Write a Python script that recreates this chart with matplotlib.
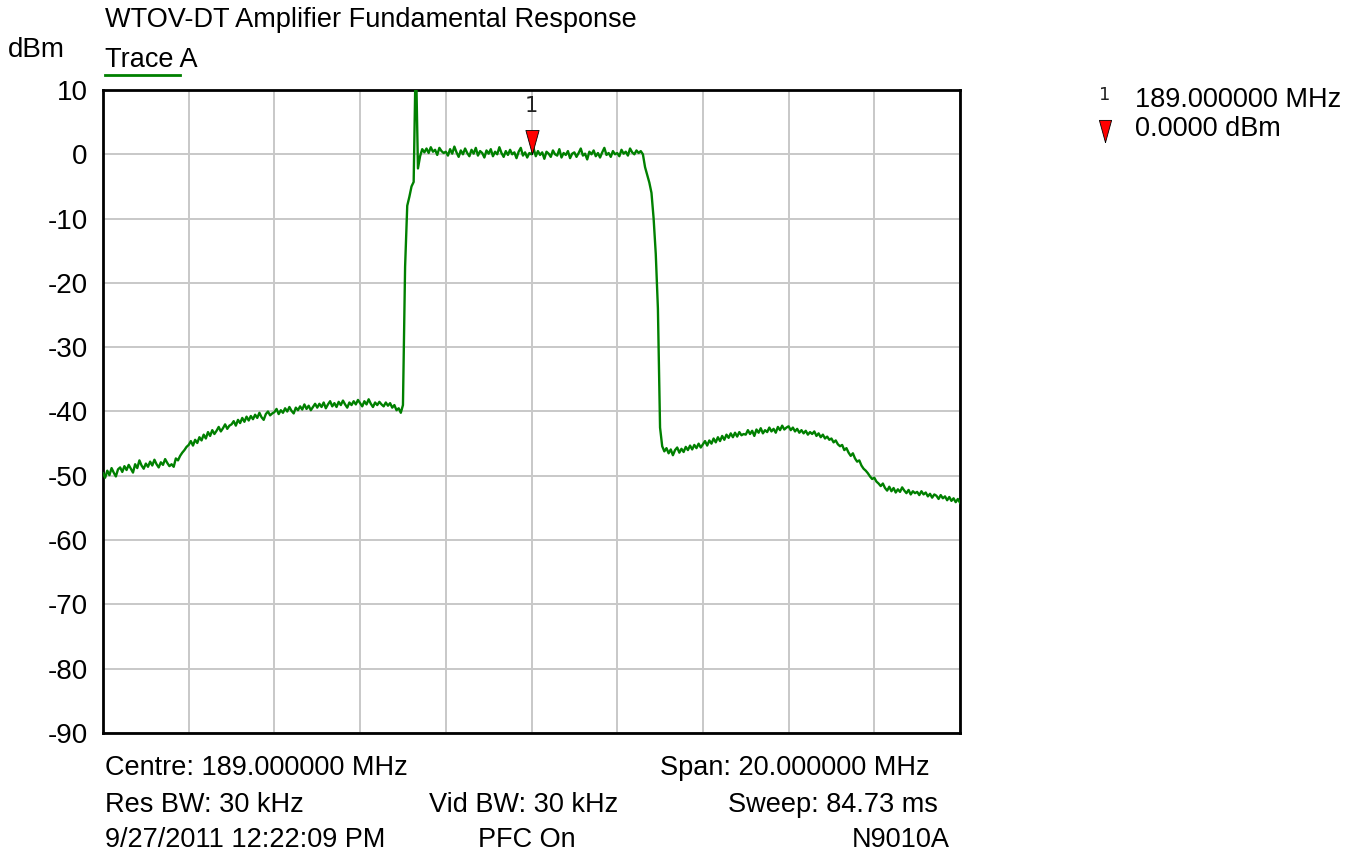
import numpy as np
import matplotlib
matplotlib.use('Agg')
import matplotlib.pyplot as plt
from matplotlib.transforms import offset_copy

plt.rcParams['font.family'] = ['Liberation Sans', 'DejaVu Sans']

# Sweep settings
centre_mhz = 189.0
span_mhz = 20.0
n_points = 401

# Trace A levels (dBm), 0.05 MHz apart, one row per MHz from 179 to 198.95, then 199.0
trace_a = [
    -49.6, -50.3, -49.2, -49.9, -48.8, -49.5, -50.1, -49.0, -48.7, -49.4, -48.5, -49.1, -48.3, -48.9, -49.5, -48.2, -48.8, -47.6, -48.4, -48.9,
    -48.1, -48.6, -47.8, -48.4, -47.5, -48.2, -48.7, -47.9, -48.3, -47.4, -48.0, -48.5, -48.2, -48.6, -47.3, -47.6, -46.9, -46.4, -46.0, -45.5,
    -45.2, -44.6, -45.3, -44.4, -44.9, -44.0, -44.5, -43.6, -44.2, -43.2, -43.8, -42.9, -43.5, -43.0, -42.4, -43.1, -42.6, -42.0, -42.7, -42.2,
    -42.0, -41.5, -42.2, -41.3, -41.8, -41.0, -41.6, -40.8, -41.4, -40.7, -41.2, -40.5, -41.0, -40.2, -40.9, -41.3, -40.4, -40.0, -40.6, -40.3,
    -40.1, -39.6, -40.4, -39.8, -40.2, -39.5, -40.0, -39.3, -39.9, -40.3, -39.4, -39.8, -39.2, -39.7, -38.9, -39.6, -39.1, -39.8, -39.3, -38.8,
    -39.4, -38.8, -39.3, -38.6, -39.5, -38.9, -38.4, -39.2, -38.7, -39.3, -38.5, -39.0, -38.3, -38.9, -39.4, -38.6, -39.0, -38.4, -38.9, -38.2,
    -38.7, -39.2, -38.4, -38.9, -38.1, -38.8, -39.3, -38.6, -39.0, -38.5, -38.9, -39.2, -38.6, -39.1, -38.7, -39.4, -39.0, -39.8, -39.5, -40.2,
    -39.0, -17.5, -8.0, -6.6, -5.0, -4.3, 16.0, -2.2, -0.3, 0.8, 0.3, 0.9, 0.2, 1.1, 0.4, 0.7, -0.1, 1.0, 0.5, 0.2,
    0.4, -0.2, 0.8, 0.1, 1.2, 0.3, -0.4, 0.6, 0.0, 0.9, 0.2, -0.3, 0.7, 0.1, 1.0, -0.2, 0.5, 0.2, -0.5, 0.6,
    0.1, 0.8, -0.3, 0.4, 0.0, 1.1, 0.2, -0.4, 0.5, -0.1, 0.7, 0.0, 0.3, -0.6, 0.4, 1.0, -0.2, 0.3, -0.5, 0.2,
    0.0, 0.9, -0.3, 0.5, -0.1, 0.3, -0.7, 0.4, 0.1, -0.4, 0.6, 0.0, -0.2, 0.8, -0.5, 0.2, -0.1, 0.5, -0.6, 0.1,
    0.3, -0.4, 0.2, 0.9, -0.2, 0.1, -0.8, 0.4, 0.0, 0.6, -0.3, 0.2, -0.5, 0.3, 1.0, -0.1, 0.2, -0.4, 0.5, 0.0,
    0.2, -0.3, 0.7, 0.1, 0.4, -0.2, 0.9, 0.3, 0.0, 0.6, 0.2, 0.5, 0.0, -2.0, -3.2, -4.4, -6.0, -10.0, -15.5, -24.0,
    -42.5, -45.4, -46.2, -45.7, -46.5, -45.9, -46.8, -46.0, -45.6, -46.4, -45.8, -46.3, -45.5, -46.0, -45.3, -45.9, -45.2, -45.7, -45.0, -45.6,
    -45.1, -44.6, -45.3, -44.5, -45.0, -44.2, -44.8, -44.0, -44.6, -43.8, -44.4, -43.6, -44.1, -43.4, -44.0, -43.3, -43.9, -43.2, -43.7, -43.5,
    -43.6, -42.9, -43.5, -43.0, -43.8, -42.8, -43.3, -42.6, -43.4, -42.9, -43.2, -42.5, -43.1, -42.7, -43.3, -42.4, -42.9, -42.2, -42.8, -42.5,
    -42.3, -42.9, -42.5, -43.1, -42.7, -43.3, -42.9, -43.4, -43.0, -43.6, -43.2, -43.5, -43.1, -43.8, -43.4, -44.0, -43.6, -44.2, -43.9, -44.4,
    -44.2, -44.8, -44.5, -45.1, -45.4, -45.2, -46.0, -45.7, -46.4, -46.9, -46.5, -47.3, -47.8, -47.6, -48.4, -48.9, -49.2, -49.6, -50.1, -50.5,
    -50.3, -50.9, -51.2, -51.6, -51.2, -51.9, -52.3, -51.7, -52.4, -51.9, -52.6, -52.1, -52.5, -51.8, -52.3, -52.7, -52.2, -52.9, -52.4, -52.7,
    -52.5, -53.0, -52.4, -52.9, -52.6, -53.2, -52.8, -53.4, -52.9, -53.1, -53.6, -53.0, -53.5, -53.2, -53.8, -53.3, -53.9, -53.5, -54.1, -53.6,
    -54.2,
]

marker_freq = 189.0
marker_level = 0.0
y_ticks = [10, 0, -10, -20, -30, -40, -50, -60, -70, -80, -90]

freqs = np.linspace(centre_mhz - span_mhz / 2, centre_mhz + span_mhz / 2, n_points)

W, H = 1357, 859
FS = 19.5
fig = plt.figure(figsize=(W / 100, H / 100), dpi=100)
ax = fig.add_axes([103 / W, 1 - 733 / H, (960 - 103) / W, (733 - 90) / H])

ax.plot(freqs, trace_a, color='#008000', lw=1.7, zorder=3)

ax.set_xlim(freqs[0], freqs[-1])
ax.set_ylim(-90, 10)
ax.set_xticks(np.linspace(freqs[0], freqs[-1], 11))
ax.set_xticklabels([])
ax.set_yticks(y_ticks)
ax.set_yticklabels([str(v) for v in y_ticks], fontsize=20)
ax.tick_params(length=0, pad=11)
ax.grid(True, color='#c8c8c8', lw=1.4)
for s in ax.spines.values():
    s.set_linewidth(2)
    s.set_color('black')

# marker 1 (triangle tip sits on the trace)
tri = [(0, -1), (-0.55, 1), (0.55, 1), (0, -1)]
tr = offset_copy(ax.transData, fig=fig, y=12, units='dots')
ax.plot([marker_freq], [marker_level], transform=tr, marker=tri, ms=17.3,
        color='red', mec='black', mew=0.6, ls='none', zorder=5, clip_on=False)
ax.annotate('1', (marker_freq, marker_level), xytext=(0, 48), textcoords='offset pixels',
            ha='center', va='center', fontsize=15, family='DejaVu Sans', color='#222222')

# header texts
fig.text(105 / W, 1 - 20 / H, 'WTOV-DT Amplifier Fundamental Response', fontsize=FS, va='center')
fig.text(8 / W, 1 - 50 / H, 'dBm', fontsize=20, va='center')
fig.text(105 / W, 1 - 60 / H, 'Trace A', fontsize=FS, va='center')
fig.add_artist(plt.Line2D([105 / W, 180 / W], [1 - 75 / H, 1 - 75 / H], color='#008000', lw=2))

# marker readout
fig.text(1105 / W, 1 - 95 / H, '1', fontsize=13, family='DejaVu Sans', ha='center', va='center', color='#222222')
fig.add_artist(plt.Line2D([1105 / W], [1 - 131 / H], marker=tri, ms=16, color='red', mec='black', mew=0.6))
fig.text(1135 / W, 1 - 100 / H, f'{marker_freq:.6f} MHz', fontsize=FS, va='center')
fig.text(1135 / W, 1 - 129 / H, f'{marker_level:.4f} dBm', fontsize=FS, va='center')

# footer texts
fig.text(105 / W, 1 - 768 / H, f'Centre: {centre_mhz:.6f} MHz', fontsize=FS, va='center')
fig.text(930 / W, 1 - 768 / H, f'Span: {span_mhz:.6f} MHz', fontsize=FS, va='center', ha='right')
fig.text(105 / W, 1 - 805 / H, 'Res BW: 30 kHz', fontsize=FS, va='center')
fig.text(524 / W, 1 - 805 / H, 'Vid BW: 30 kHz', fontsize=FS, va='center', ha='center')
fig.text(938 / W, 1 - 805 / H, 'Sweep: 84.73 ms', fontsize=FS, va='center', ha='right')
fig.text(105 / W, 1 - 840 / H, '9/27/2011 12:22:09 PM', fontsize=FS, va='center')
fig.text(527 / W, 1 - 840 / H, 'PFC On', fontsize=FS, va='center', ha='center')
fig.text(950 / W, 1 - 840 / H, 'N9010A', fontsize=FS, va='center', ha='right')

fig.savefig('out.png', dpi=100)
